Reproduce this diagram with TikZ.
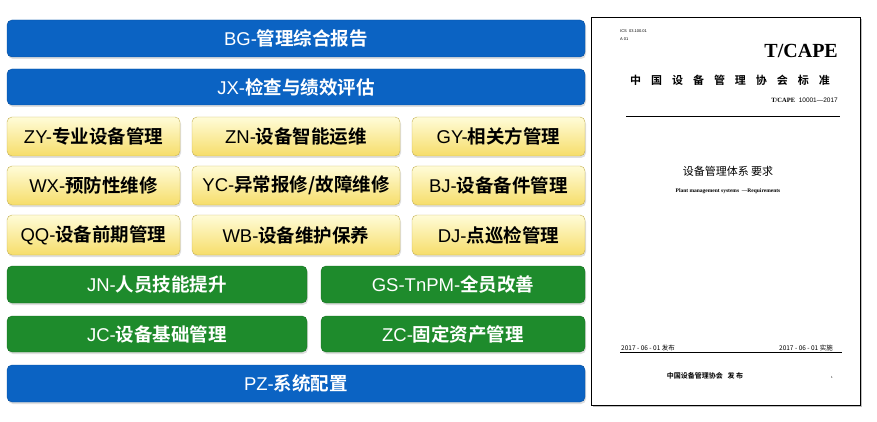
\documentclass[tikz,border=0pt]{standalone}
\usepackage{fontspec}
\setmainfont{Liberation Sans}
\newfontfamily\cjk{Noto Sans CJK SC}
\newfontfamily\cjkb{Noto Sans CJK SC Bold}
\newfontfamily\serifb{Liberation Serif}
\usetikzlibrary{shadows}
\definecolor{bblue}{HTML}{0B63C3}
\definecolor{gg}{HTML}{1E8B2C}
\definecolor{ylt}{HTML}{FFFCD8}
\definecolor{ydk}{HTML}{F6DD6A}
\newcommand{\lab}[2]{#1-{\cjkb #2}}
\begin{document}
\begin{tikzpicture}[x=1pt,y=-1pt,
 blue/.style={draw=bblue!80!black,fill=bblue,rounded corners=5pt,drop shadow={opacity=0.25,shadow xshift=1pt,shadow yshift=-2pt}},
 yel/.style={draw=ydk!80!black,top color=ylt,bottom color=ydk,rounded corners=5pt,drop shadow={opacity=0.25,shadow xshift=1pt,shadow yshift=-2pt}},
 grn/.style={draw=gg!80!black,fill=gg,rounded corners=5pt,drop shadow={opacity=0.25,shadow xshift=1pt,shadow yshift=-2pt}},
 bluetxt/.style={text=white,font=\fontsize{18.5}{18.5}\selectfont},
 yeltxt/.style={text=black,font=\fontsize{18.5}{18.5}\selectfont},
 grntxt/.style={text=white,font=\fontsize{18.5}{18.5}\selectfont},
 dt/.style={font=\fontsize{6.5}{6.5}\selectfont\cjk,inner sep=0pt}]
\useasboundingbox (0,0) rectangle (877,422);
\def\B#1#2#3#4#5#6#7{\draw[#1] (#2,#3) rectangle (#4,#5); \node[#1txt] (#7) at ({(#2+#4)/2},{(#3+#5)/2}) {#6};}
\B{blue}{7}{20}{585}{57}{\lab{BG}{管理综合报告}}{bg}
\B{blue}{7}{69}{585}{105}{\lab{JX}{检查与绩效评估}}{jx}
\B{yel}{7}{117}{180}{156}{\lab{ZY}{专业设备管理}}{zy}
\B{yel}{192}{117}{400}{156}{\lab{ZN}{设备智能运维}}{zn}
\B{yel}{412}{117}{585}{156}{\lab{GY}{相关方管理}}{gy}
\B{yel}{7}{166}{180}{205}{\lab{WX}{预防性维修}}{wx}
\B{yel}{192}{166}{400}{205}{\lab{YC}{异常报修/故障维修}}{yc}
\B{yel}{412}{166}{585}{205}{\lab{BJ}{设备备件管理}}{bj}
\B{yel}{7}{215}{180}{255}{\lab{QQ}{设备前期管理}}{qq}
\B{yel}{192}{215}{400}{255}{\lab{WB}{设备维护保养}}{wb}
\B{yel}{412}{215}{585}{255}{\lab{DJ}{点巡检管理}}{dj}
\B{grn}{7}{266}{307}{303}{\lab{JN}{人员技能提升}}{jn}
\B{grn}{321}{266}{585}{303}{\lab{GS-TnPM}{全员改善}}{gs}
\B{grn}{7}{316}{307}{352}{\lab{JC}{设备基础管理}}{jc}
\B{grn}{321}{316}{585}{352}{\lab{ZC}{固定资产管理}}{zc}
\B{blue}{7}{365}{585}{402}{\lab{PZ}{系统配置}}{pz}
% document
\draw[fill=white,drop shadow={opacity=0.5,shadow xshift=2pt,shadow yshift=-2pt}] (591,17) rectangle (860,405);
\node[dt,anchor=west,font=\fontsize{4}{4}\selectfont] (ics) at (620,31) {ICS\ \ 03.100.01};
\node[dt,anchor=west,font=\fontsize{4}{4}\selectfont] (a01) at (620,39) {A 01};
\node[anchor=east,font=\fontsize{20}{20}\serifb\bfseries,inner sep=0pt] (tc) at (838,51) {T/CAPE};
\node[font=\fontsize{11}{11}\cjkb,inner sep=0pt] (cn) at (730,80) {中\ \ \ \ 国\ \ \ \ 设\ \ \ \ 备\ \ \ \ 管\ \ \ \ 理\ \ \ \ 协\ \ \ \ 会\ \ \ \ 标\ \ \ \ 准};
\node[anchor=east,inner sep=0pt,font=\fontsize{6.5}{6.5}\selectfont] (num) at (838,100) {{\serifb\bfseries T/CAPE}\ \ 10001—2017};
\draw (626,116) -- (840,116);
\node[font=\fontsize{11}{11}\cjk,inner sep=0pt] (tt) at (728,171) {设备管理体系\ 要求};
\node[font=\fontsize{5.5}{5.5}\serifb\bfseries,inner sep=0pt] (en) at (728,191) {Plant management systems\ \ —Requirements};
\node[dt,anchor=west] (d1) at (621,348) {2017 - 06 - 01 发布};
\node[dt,anchor=east] (d2) at (833,348) {2017 - 06 - 01 实施};
\draw (620,352) -- (842,352);
\node[font=\fontsize{7}{7}\cjkb,inner sep=0pt] (pub) at (705,376) {中国设备管理协会\ \ \ 发\ 布};
\node[dt,font=\fontsize{3}{3}\selectfont] (pg) at (832,377) {1};
\end{tikzpicture}
\end{document}
